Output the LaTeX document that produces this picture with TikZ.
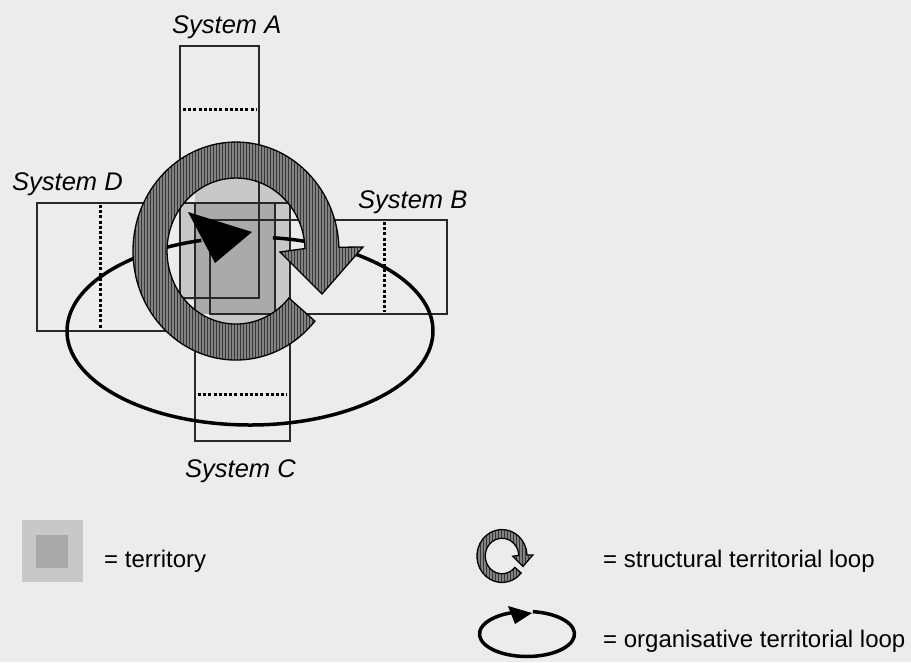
\documentclass[tikz,border=0pt]{standalone}
\usepackage{fontspec}
\setmainfont{Liberation Sans}
\usetikzlibrary{patterns}
\definecolor{bg}{RGB}{236,236,236}
\definecolor{terrL}{RGB}{200,200,200}
\definecolor{terrD}{RGB}{170,170,170}
\definecolor{ringF}{RGB}{130,130,130}
\definecolor{ringS}{RGB}{55,55,55}
\definecolor{rectC}{RGB}{40,40,40}
\tikzset{
 sysbox/.style={draw=rectC, line width=1.3pt},
 dotline/.style={draw=black, line width=3pt, dash pattern=on 3pt off 2.2pt},
 ringstyle/.style={draw=black, line width=1.3pt, preaction={fill=ringF}, pattern=vertical lines, pattern color=ringS},
 orgloop/.style={draw=black, line width=3.5pt},
 syslabel/.style={font=\fontsize{25.5}{30}\selectfont\itshape, anchor=base west, inner sep=0pt},
 legtext/.style={font=\fontsize{24}{28}\selectfont, anchor=base west, inner sep=0pt},
 sloop/.pic={
  \path[ringstyle] (78.9,70.1) arc[start angle=40,end angle=358,x radius=103,y radius=109]
    -- (127,-4) -- (86,43) -- (44,1) -- (69,-2.5)
    arc[start angle=358,end angle=40,x radius=69,y radius=73] -- cycle;
 }
}
\begin{document}
\begin{tikzpicture}[x=1pt,y=-1pt]
\fill[bg] (0,0) rectangle (911,662);
\useasboundingbox (0,0) rectangle (911,662);

% territory
\begin{scope}
 \clip (236,251) ellipse[x radius=69, y radius=73];
 \fill[terrL] (195,150) -- (290,150) -- (290,340) -- (210,340) -- (210,300) -- (180,300) -- (180,203) -- (195,203) -- cycle;
 \fill[terrD] (195,203) rectangle (275,314);
\end{scope}

% systems
\draw[sysbox] (180,46) rectangle (259,298);
\draw[sysbox] (210,220) rectangle (447,314);
\draw[sysbox] (195,203) rectangle (290,441);
\draw[sysbox] (37,203) rectangle (275,331);
\draw[dotline] (183,109) -- (257,109);
\draw[dotline] (384,222) -- (384,312);
\draw[dotline] (198,394) -- (287,394);
\draw[dotline] (100,205) -- (100,329);

% organisative loop
\draw[orgloop] ({250+183*cos(277.2)},{331+94*sin(277.2)}) arc[start angle=277.2, end angle=614.6, x radius=183, y radius=94];

% structural loop
\pic at (236,251) {sloop};

\fill[black] (188,212) -- (252,232) -- (215,263) -- cycle;

% labels
\node[syslabel] (lA) at (172,33) {System A};
\node[syslabel] (lB) at (358,208) {System B};
\node[syslabel] (lC) at (185,477) {System C};
\node[syslabel] (lD) at (12,190) {System D};

% legend
\fill[terrL] (22,520) rectangle (83,582);
\fill[terrD] (36,535) rectangle (68,568);
\node[legtext] (t1) at (104,567) {= territory};

\pic[scale=0.243] at (502,556) {sloop};
\node[legtext] (t2) at (603,567) {= structural territorial loop};

\draw[orgloop] ({527+47.5*cos(277)},{634+22.5*sin(277)}) arc[start angle=277, end angle=611, x radius=47.5, y radius=22.5];
\fill[black] (508,606) -- (532,613) -- (515,624) -- cycle;
\node[legtext] (t3) at (603,647) {= organisative territorial loop};
\end{tikzpicture}
\end{document}
